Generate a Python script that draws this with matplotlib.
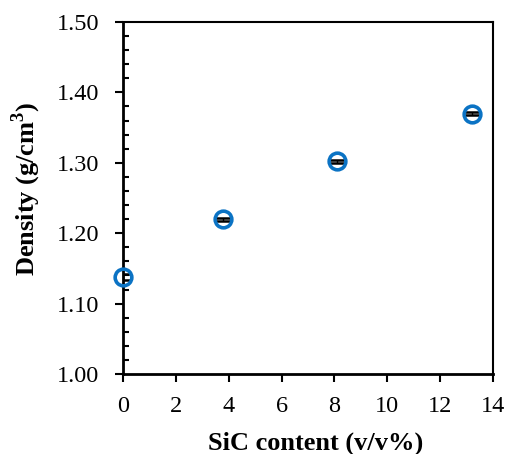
import matplotlib
matplotlib.use("Agg")
import matplotlib.pyplot as plt
from matplotlib.ticker import MultipleLocator, FormatStrFormatter

sic = [0.0, 3.8, 8.1, 13.2]
density = [1.138, 1.220, 1.302, 1.370]
err = [0.004, 0.002, 0.002, 0.002]

plt.rcParams['font.family'] = ['Liberation Serif', 'DejaVu Serif']
plt.rcParams['mathtext.fontset'] = 'custom'
plt.rcParams['mathtext.rm'] = 'Liberation Serif'
plt.rcParams['mathtext.bf'] = 'Liberation Serif:bold'

fig = plt.figure(figsize=(5.09, 4.54), dpi=100)
ax = fig.add_axes([0.2417, 0.1762, 0.9686 - 0.2417, 0.9515 - 0.1762])

ax.errorbar(sic, density, yerr=err, fmt='none', ecolor='black', elinewidth=1.0,
            capsize=5, capthick=1.8, zorder=3)
ax.plot(sic, density, 'o', mfc='none', mec='#0B73C4', mew=2.6, ms=12, zorder=4,
        clip_on=False)

ax.set_xlim(0, 14)
ax.set_ylim(1.0, 1.5)
ax.xaxis.set_major_locator(MultipleLocator(2))
ax.yaxis.set_major_locator(MultipleLocator(0.1))
ax.yaxis.set_minor_locator(MultipleLocator(0.02))
ax.yaxis.set_major_formatter(FormatStrFormatter('%.2f'))
ax.tick_params(axis='both', which='major', direction='out', length=6, width=1.5,
               labelsize=17.5)
ax.tick_params(axis='x', which='major', pad=10)
ax.tick_params(axis='y', which='major', pad=11)
ax.tick_params(axis='y', which='minor', direction='in', length=4.5, width=1.5)
ax.tick_params(axis='x', which='minor', bottom=False)
for s in ['left', 'bottom']:
    ax.spines[s].set_linewidth(2.0)
for s in ['top', 'right']:
    ax.spines[s].set_linewidth(1.5)

ax.set_xlabel('SiC content (v/v%)', fontsize=19, fontweight='bold')
ax.set_ylabel('Density (g/cm$^{\\mathbf{3}}$)', fontsize=19, fontweight='bold')
ax.xaxis.set_label_coords(0.52, -0.163)
ax.yaxis.set_label_coords(-0.215, 0.527)

fig.savefig('out.png', dpi=100)
